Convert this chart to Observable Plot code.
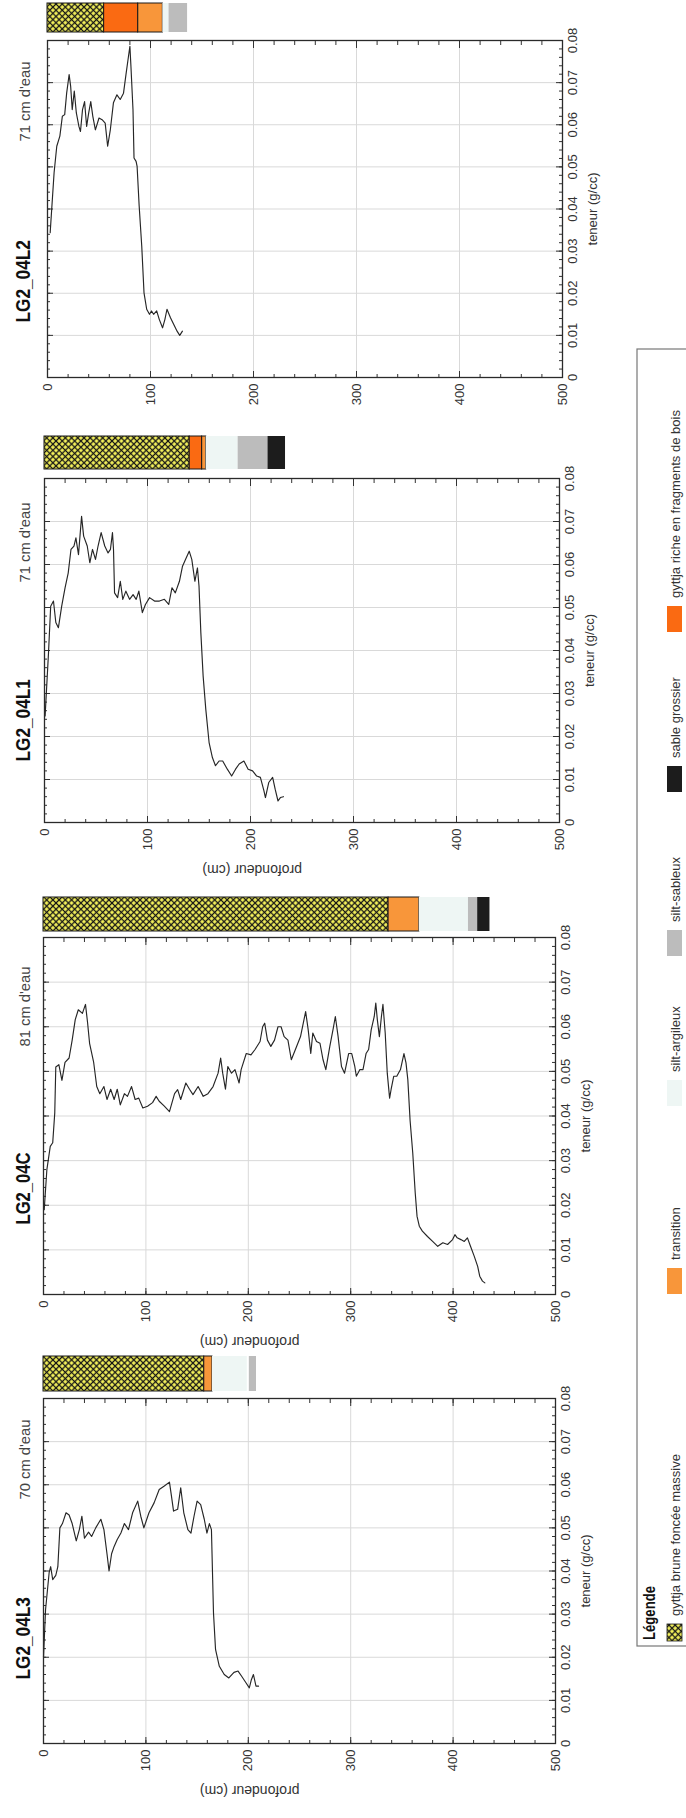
<!DOCTYPE html>
<html><head><meta charset="utf-8">
<script src="https://cdn.jsdelivr.net/npm/d3@7"></script>
<script src="https://cdn.jsdelivr.net/npm/@observablehq/plot@0.6"></script>
<style>
html,body{margin:0;padding:0;background:#fff;}
body{width:686px;height:1818px;overflow:hidden;position:relative;font-family:"Liberation Sans",Arial,sans-serif;}
#page{position:absolute;left:0;top:0;width:1818px;height:686px;transform-origin:0 0;transform:translate(0px,1818px) rotate(-90deg);}
#page > svg{position:absolute;overflow:visible;}
</style></head><body>
<svg width="0" height="0" style="position:absolute">
  <defs>
    <pattern id="gyttjaPattern" patternUnits="userSpaceOnUse" width="4.4" height="4.4" patternTransform="rotate(45)">
      <rect width="4.4" height="4.4" fill="#f6f35c"/>
      <path d="M0,2.2H4.4M2.2,0V4.4" stroke="#151515" stroke-width="1.25"/>
    </pattern>
  </defs>
</svg>
<div id="page"></div>
<script>
// ---------- DATA ----------
const coreNames = ["LG2_04L3", "LG2_04C", "LG2_04L1", "LG2_04L2"];
const waterDepths = ["70 cm d'eau", "81 cm d'eau", "71 cm d'eau", "71 cm d'eau"];
const axisLabelX = "teneur (g/cc)";
const axisLabelY = "profondeur (cm)";
const depthTicks = [0, 100, 200, 300, 400, 500];
const teneurTicks = [0, 0.01, 0.02, 0.03, 0.04, 0.05, 0.06, 0.07, 0.08];
const teneurTickLabels = ["0", "0.01", "0.02", "0.03", "0.04", "0.05", "0.06", "0.07", "0.08"];

// [profondeur (cm), teneur (g/cc)]
const coreL3 = [[0,0.020],[2,0.031],[5.5,0.0396],[7,0.041],[9,0.038],[12,0.039],[14,0.041],[16,0.050],[18.5,0.051],[22,0.0535],[25,0.053],[28,0.051],[32,0.047],[35,0.0496],[37.5,0.0527],[40,0.0476],[44,0.049],[47,0.048],[51,0.050],[56,0.052],[59,0.0496],[62,0.044],[64,0.040],[66.5,0.044],[69,0.0457],[72,0.0473],[75.6,0.0488],[79,0.051],[83,0.0496],[87,0.0535],[92,0.0562],[95,0.0527],[98,0.050],[103,0.0535],[108,0.0558],[113,0.0589],[118,0.0597],[123,0.0606],[125,0.0573],[127,0.0539],[131,0.0543],[134,0.0593],[137,0.0535],[141,0.0496],[144,0.0488],[147,0.0527],[150,0.0562],[153.5,0.0554],[157,0.052],[159.6,0.0488],[162,0.051],[164,0.0496],[166,0.0303],[168,0.0218],[171.7,0.0179],[176.5,0.016],[181,0.0152],[186,0.0165],[190,0.0168],[193.5,0.0156],[197.7,0.0141],[201,0.0129],[203,0.0148],[205,0.016],[207.5,0.0133],[210,0.0133]];
const coreC = [[0.7,0.019],[3.3,0.028],[6.6,0.0332],[9,0.034],[11,0.0407],[12,0.051],[15,0.0515],[18,0.048],[21,0.052],[25,0.053],[28,0.057],[31,0.0616],[34,0.0638],[38,0.063],[41,0.065],[43,0.061],[45,0.0563],[49,0.052],[52,0.0466],[55,0.045],[59,0.0466],[62,0.0437],[65.6,0.046],[69,0.0437],[72,0.046],[75,0.0425],[79,0.045],[82,0.0444],[86,0.0466],[89.5,0.0437],[93,0.044],[97,0.0418],[101.6,0.0422],[106.5,0.043],[110,0.0444],[113,0.0433],[118,0.0422],[123,0.041],[128,0.045],[131,0.0459],[134,0.0437],[139,0.0474],[142.6,0.046],[146,0.0448],[151,0.0466],[156,0.0444],[160.6,0.045],[165.6,0.0466],[170.5,0.0496],[173,0.053],[175,0.0496],[177.7,0.046],[180,0.0511],[183.6,0.0496],[187,0.0504],[191,0.0474],[193,0.0504],[198,0.054],[202.6,0.0537],[206.6,0.0549],[211.5,0.0567],[214,0.060],[216,0.0608],[218.7,0.057],[222,0.0556],[225.6,0.057],[229,0.060],[232,0.060],[235,0.0578],[238.7,0.057],[242,0.0526],[246,0.0549],[251,0.0578],[256,0.0634],[258.5,0.0593],[261,0.054],[263,0.0586],[266.6,0.0567],[270,0.0563],[273,0.0526],[275.7,0.0504],[279.6,0.0556],[283,0.0597],[285,0.0623],[287.7,0.0578],[291,0.0511],[294,0.0496],[298,0.054],[301,0.054],[304,0.0511],[305.5,0.0489],[309,0.0504],[312,0.0504],[315,0.054],[317.5,0.0549],[320,0.0593],[323,0.0623],[324.5,0.0653],[326,0.0616],[328,0.0578],[330,0.0623],[331.5,0.065],[333.7,0.0586],[335.7,0.0496],[338,0.044],[339.5,0.046],[342,0.0489],[345,0.0489],[348.6,0.0504],[352,0.054],[354,0.0519],[355.8,0.0481],[358,0.039],[360.6,0.0317],[363,0.0228],[364.8,0.0175],[367,0.0153],[370,0.0142],[375,0.013],[380,0.0119],[385,0.0108],[390,0.0116],[394.6,0.0112],[399.5,0.0123],[401.8,0.0134],[404,0.0127],[407.6,0.0123],[410.9,0.0119],[414,0.0127],[417,0.0108],[420.6,0.0086],[424,0.0063],[426,0.0041],[428.7,0.003],[431,0.0026]];
const coreL1 = [[0.6,0.0248],[3.9,0.0395],[6,0.0503],[8.7,0.0515],[11,0.0465],[13.5,0.0453],[16.7,0.0503],[20,0.0546],[23,0.058],[25.7,0.0635],[28.6,0.0643],[30.5,0.0662],[33,0.0623],[36,0.0712],[38,0.0666],[41.5,0.0643],[44,0.0604],[46.6,0.0635],[49.5,0.0612],[52,0.0643],[55,0.0674],[58.5,0.0643],[61.7,0.0627],[64,0.0635],[66,0.0674],[67,0.0635],[68,0.0534],[71,0.0523],[73.6,0.0561],[76,0.0519],[79,0.0538],[82.6,0.0519],[86,0.053],[89,0.0519],[91.6,0.0538],[95,0.0488],[98,0.0507],[102,0.0523],[106.8,0.0515],[111.6,0.0515],[116.4,0.0519],[120.6,0.0507],[123.8,0.0546],[127,0.0534],[131,0.0561],[134,0.0596],[137,0.0612],[140.5,0.0631],[143,0.0612],[146,0.0561],[148.5,0.0592],[150,0.055],[151.8,0.0441],[154,0.0341],[156.6,0.0263],[159.8,0.0186],[163,0.0151],[166,0.0132],[169.5,0.0143],[173,0.0143],[177.5,0.0124],[181.7,0.0108],[185.5,0.0124],[189,0.0136],[193.6,0.0143],[197.7,0.0124],[202,0.012],[206,0.0108],[209.6,0.0105],[213,0.0074],[214.5,0.0058],[217.7,0.0093],[221.5,0.0105],[224,0.0077],[226.7,0.005],[229,0.0058],[232,0.006]];
const coreL2 = [[2.6,0.0344],[6.4,0.0486],[9,0.0549],[12,0.0573],[14.4,0.062],[16.7,0.0624],[18.6,0.0675],[21,0.0719],[22.5,0.0691],[24,0.0636],[26,0.068],[28,0.0628],[30.5,0.0596],[32,0.0584],[34,0.0636],[36,0.0655],[38,0.0596],[40,0.0628],[42,0.0655],[44,0.062],[46.5,0.0588],[50,0.0616],[53,0.0612],[56,0.0604],[58.4,0.0549],[61,0.0588],[64,0.0652],[67.4,0.0671],[70.6,0.066],[73.8,0.0675],[76.4,0.0723],[78.6,0.0762],[80,0.0786],[81,0.0739],[83,0.0636],[84,0.0521],[86,0.0513],[87,0.0501],[89,0.0407],[91.5,0.0312],[93.7,0.0201],[96.3,0.0162],[99,0.015],[101,0.0158],[103,0.015],[106,0.0158],[108.5,0.0138],[111.7,0.0118],[114,0.0138],[116,0.0162],[119.4,0.0142],[122.6,0.0126],[125.8,0.011],[128.4,0.01],[131,0.011]];

// stratigraphy: depth intervals (cm) and facies
const layersL3 = [{from:0,to:157,kind:"gyttja"},{from:157,to:165,kind:"transition"},{from:165,to:199,kind:"siltArg"},{from:201,to:208,kind:"siltSab"}];
const layersC  = [{from:0,to:337,kind:"gyttja"},{from:337,to:367,kind:"transition"},{from:367,to:415,kind:"siltArg"},{from:415,to:424,kind:"siltSab"},{from:424,to:436,kind:"sable"}];
const layersL1 = [{from:0,to:141,kind:"gyttja"},{from:141,to:153,kind:"riche"},{from:153,to:157,kind:"transition"},{from:157,to:188,kind:"siltArg"},{from:188,to:217,kind:"siltSab"},{from:217,to:234,kind:"sable"}];
const layersL2 = [{from:0,to:55,kind:"gyttja"},{from:55,to:88,kind:"riche"},{from:88,to:112,kind:"transition"},{from:112,to:118,kind:"siltArg"},{from:118,to:136,kind:"siltSab"}];

const legendKinds = ["gyttja", "transition", "siltArg", "siltSab", "sable", "riche"];
const legendLabels = ["gyttja brune foncée massive", "transition", "silt-argileux", "silt-sableux", "sable grossier", "gyttja riche en fragments de bois"];
const legendTitle = "Légende";

// ---------- STYLE / LAYOUT ----------
const series = [coreL3, coreC, coreL1, coreL2];
const layerSets = [layersL3, layersC, layersL1, layersL2];
const kindFill = {gyttja: "url(#gyttjaPattern)", transition: "#f8963a", riche: "#fa6a12", siltArg: "#eef6f4", siltSab: "#bcbcbc", sable: "#1c1c1c"};
const kindStroke = {gyttja: "#1a1a1a", transition: "#1a1a1a", riche: "#1a1a1a", siltArg: "none", siltSab: "none", sable: "none"};
const frames = [
  {left: 74,   right: 419,  top: 43, bottom: 555, colLeft: 427,  colRight: 462,  titleLeft: 138,  subRight: 398,  yLabel: true},
  {left: 523,  right: 880,  top: 43, bottom: 555, colLeft: 887,  colRight: 921,  titleLeft: 593,  subRight: 851,  yLabel: true},
  {left: 995,  right: 1339, top: 44, bottom: 559, colLeft: 1349, colRight: 1382, titleLeft: 1056, subRight: 1315, yLabel: true},
  {left: 1440, right: 1777, top: 47, bottom: 562, colLeft: 1786, colRight: 1815, titleLeft: 1495, subRight: 1756, yLabel: false}
];
const depthMinor = d3.range(0, 501, 20);
const teneurMinor = d3.range(0, 41).map(k => k * 0.002);
const FONT = "'Liberation Sans', Arial, Helvetica, sans-serif";
const page = document.getElementById("page");
const H = 620;

function makePanel(i) {
  const f = frames[i];
  const mL = 62, mR = 8;
  const fw = f.right - f.left, fh = f.bottom - f.top;
  const rows = series[i].map(([d, t]) => ({d, t}));
  const tickStroke = "#333";
  const marks = [
    Plot.ruleX(teneurTicks.slice(1, -1), {x: d => d, stroke: "#d9d9d9", strokeWidth: 1}),
    Plot.ruleY(depthTicks.slice(1, -1), {y: d => d, stroke: "#d9d9d9", strokeWidth: 1}),
    Plot.tickX(teneurMinor, {x: d => d, insetBottom: fh - 3, stroke: tickStroke}),
    Plot.tickX(teneurTicks, {x: d => d, insetBottom: fh - 6, stroke: tickStroke}),
    Plot.tickX(teneurMinor, {x: d => d, insetTop: fh - 3, stroke: tickStroke}),
    Plot.tickX(teneurTicks, {x: d => d, insetTop: fh - 6, stroke: tickStroke}),
    Plot.tickY(depthMinor, {y: d => d, insetRight: fw - 4, stroke: tickStroke}),
    Plot.tickY(depthTicks, {y: d => d, insetRight: fw - 7, stroke: tickStroke}),
    Plot.tickY(depthMinor, {y: d => d, insetLeft: fw - 4, stroke: tickStroke}),
    Plot.tickY(depthTicks, {y: d => d, insetLeft: fw - 7, stroke: tickStroke}),
    Plot.line(rows, {x: "t", y: "d", stroke: "#262626", strokeWidth: 1.15}),
    Plot.frame({stroke: "#2a2a2a", strokeWidth: 1.3}),
    Plot.text([coreNames[i]], {text: d => d, frameAnchor: "top-left", dx: f.titleLeft - f.left, dy: 29 - f.top,
      lineAnchor: "bottom", textAnchor: "start", fontWeight: "bold", fontSize: 20, fill: "#111"}),
    Plot.text([waterDepths[i]], {text: d => d, frameAnchor: "top-right", dx: f.subRight - f.right, dy: 29 - f.top,
      lineAnchor: "bottom", textAnchor: "end", fontSize: 15, fill: "#444"}),
    Plot.text([axisLabelX], {text: d => d, frameAnchor: "bottom", dy: 25, lineAnchor: "top", fontSize: 13, fill: "#333"})
  ];
  if (f.yLabel) marks.push(Plot.text([axisLabelY], {text: d => d, frameAnchor: "left", dx: -47, rotate: -90, lineAnchor: "middle", fontSize: 14, fill: "#333"}));
  const svg = Plot.plot({
    width: mL + fw + mR, height: H,
    marginLeft: mL, marginRight: mR, marginTop: f.top, marginBottom: H - f.bottom,
    style: {fontFamily: FONT, fontSize: "13px", color: "#333", background: "transparent", overflow: "visible"},
    x: {domain: [0, 0.08], ticks: teneurTicks, tickFormat: d => teneurTickLabels[teneurTicks.indexOf(d)], tickSize: 0, tickPadding: 5, label: null},
    y: {domain: [0, 500], reverse: true, ticks: depthTicks, tickSize: 0, tickPadding: 6, label: null},
    marks
  });
  svg.style.left = (f.left - mL) + "px";
  svg.style.top = "0px";
  d3.select(svg).selectAll("text").filter(function () { return this.textContent === coreNames[i]; })
    .attr("textLength", coreNames[i].length * 10.3).attr("lengthAdjust", "spacingAndGlyphs");
  d3.select(svg).selectAll("text").filter(function () { return this.textContent === waterDepths[i]; })
    .attr("textLength", 80).attr("lengthAdjust", "spacingAndGlyphs");
  page.appendChild(svg);
}

function makeColumn(i) {
  const f = frames[i];
  const layers = layerSets[i];
  const marks = Object.keys(kindFill).map(k =>
    Plot.rect(layers.filter(l => l.kind === k), {x1: 0, x2: 1, y1: "from", y2: "to", fill: kindFill[k], stroke: kindStroke[k], strokeWidth: 1})
  );
  const svg = Plot.plot({
    width: f.colRight - f.colLeft, height: H,
    marginLeft: 0, marginRight: 0, marginTop: f.top, marginBottom: H - f.bottom,
    style: {background: "transparent", overflow: "visible"},
    x: {domain: [0, 1], axis: null},
    y: {domain: [0, 500], reverse: true, axis: null},
    marks
  });
  svg.style.left = f.colLeft + "px";
  svg.style.top = "0px";
  page.appendChild(svg);
}

for (let i = 0; i < 4; i++) { makePanel(i); makeColumn(i); }

// ---------- LEGEND ----------
const legendBox = {left: 172, right: 1469, top: 637};
const legendItemX = [177, 524, 712, 862, 1026, 1186];
const lg = d3.create("svg").attr("width", 1818).attr("height", 686)
  .style("left", "0px").style("top", "0px").style("font-family", FONT);
lg.append("rect").attr("x", legendBox.left).attr("y", legendBox.top)
  .attr("width", legendBox.right - legendBox.left).attr("height", 90)
  .attr("fill", "none").attr("stroke", "#777").attr("stroke-width", 1.2);
lg.append("text").attr("x", legendBox.left + 6).attr("y", 655).attr("font-size", 16).attr("font-weight", "bold")
  .attr("fill", "#111").attr("textLength", 54).attr("lengthAdjust", "spacingAndGlyphs").text(legendTitle);
legendKinds.forEach((k, j) => {
  const sx = legendItemX[j];
  const sw = k === "gyttja" ? 17 : 26;
  lg.append("rect").attr("x", sx).attr("y", 667).attr("width", sw).attr("height", 15)
    .attr("fill", kindFill[k]).attr("stroke", k === "gyttja" ? "#1a1a1a" : "none").attr("stroke-width", 0.8);
  lg.append("text").attr("x", sx + sw + 8).attr("y", 680).attr("font-size", 13).attr("fill", "#333").text(legendLabels[j]);
});
page.appendChild(lg.node());
</script>
</body></html>
